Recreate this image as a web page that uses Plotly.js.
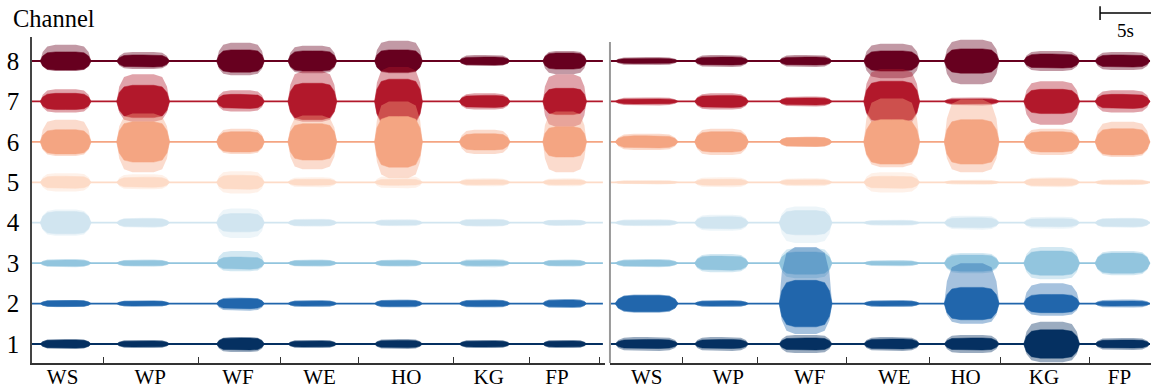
<!DOCTYPE html>
<html>
<head>
<meta charset="utf-8">
<script src="https://cdn.plot.ly/plotly-3.0.1.min.js"></script>
</head>
<body style="margin:0;padding:0;background:#fff">
<div id="chart"></div>
<script>
// ---------- data (time in seconds, amplitude in 1/40 of channel spacing) ----------
const GESTURES = ['WS', 'WP', 'WF', 'WE', 'HO', 'KG', 'FP'];
const CHANNELS = [1, 2, 3, 4, 5, 6, 7, 8];

// left recording
const LEFT_START = [0.8, 8.3, 18.1, 25.1, 33.6, 41.9, 50.1];
const LEFT_END   = [5.8, 13.5, 22.8, 29.9, 38.3, 46.9, 54.4];
const LEFT_TICKS = [7.0, 16.3, 24.4, 32.0, 41.3, 48.8, 55.7];
const LEFT_LABEL_POS = [3.0, 11.6, 20.2, 28.2, 36.7, 44.8, 51.5];
const LEFT_LENGTH = 56.0;
// rows: channel 1..8, columns: WS WP WF WE HO KG FP
const LEFT_BODY = [
  [4, 3, 6, 3, 3.5, 3, 3],
  [3, 2.5, 5, 2.5, 3, 3, 3.5],
  [3, 2.5, 6, 2.5, 2.5, 2.5, 2.5],
  [11, 4, 9, 3, 2.5, 3, 2.5],
  [6, 5, 7, 3, 3, 2.5, 2.5],
  [12, 20, 10, 18, 25, 8, 15],
  [8, 16, 7, 18, 22, 6, 13],
  [9, 6, 11, 10, 11, 4, 8]
];
const LEFT_PEAK_UP = [
  [5, 4, 7, 4, 5, 4, 4],
  [3.5, 3, 6, 3.5, 4, 4, 4.5],
  [4, 3.5, 12, 3.5, 3.5, 4, 3.5],
  [13, 5, 14, 4, 3.5, 4, 3],
  [9, 8, 11, 5, 6, 4, 4],
  [22, 28, 13, 26, 40, 12, 30],
  [12, 27, 11, 30, 34, 8, 27],
  [16, 9, 18, 15, 20, 6, 10]
];
const LEFT_PEAK_DOWN = [
  [5, 4, 8, 4, 5, 4, 4],
  [3.5, 3, 7, 3.5, 4, 4, 4.5],
  [4, 3.5, 8, 3.5, 3.5, 4, 3.5],
  [13, 5, 15, 4, 3.5, 4, 3],
  [9, 7, 11, 5, 6, 4, 4],
  [14, 30, 12, 27, 36, 12, 30],
  [11, 20, 10, 20, 25, 8, 25],
  [10, 8, 14, 12, 12, 5, 13]
];

// right recording
const RIGHT_START = [0.5, 8.3, 16.6, 24.9, 32.8, 40.6, 47.6];
const RIGHT_END   = [6.7, 13.6, 21.8, 30.4, 38.2, 46.1, 53.0];
const RIGHT_TICKS = [7.1, 14.5, 23.2, 31.4, 38.3, 47.1];
const RIGHT_LABEL_POS = [3.6, 11.6, 19.6, 27.9, 34.9, 42.6, 50.0];
const RIGHT_LENGTH = 53.0;
const RIGHT_BODY = [
  [4.5, 4.5, 6, 5, 6, 14, 4],
  [8, 2.5, 23, 2.5, 16, 9, 2.5],
  [3, 7, 11, 2, 8, 12, 10],
  [2.5, 6, 12, 2, 5, 4, 4],
  [1.5, 3, 2.5, 6, 1.5, 3.5, 2],
  [6, 10, 4.5, 22, 22, 10, 13],
  [2.5, 6, 3.5, 20, 2.5, 12, 7],
  [2.5, 4, 4, 10, 12, 7, 6]
];
const RIGHT_PEAK_UP = [
  [7, 7, 9, 7, 9, 22, 6],
  [9, 3.5, 56, 3.5, 40, 20, 4],
  [4, 9, 15, 3, 10, 16, 12],
  [3.5, 8, 16, 3, 7, 6, 5],
  [2, 5, 4, 10, 2.5, 5, 3],
  [8, 13, 5, 43, 42, 13, 20],
  [4, 8, 5, 32, 4, 20, 11],
  [4, 6, 6, 17, 21, 10, 9]
];
const RIGHT_PEAK_DOWN = [
  [7, 7, 9, 7, 9, 18, 6],
  [9, 3.5, 30, 3.5, 20, 12, 4],
  [4, 9, 15, 3, 10, 16, 12],
  [3.5, 8, 20, 3, 7, 6, 5],
  [2, 5, 4, 10, 2.5, 5, 3],
  [8, 13, 5, 25, 30, 13, 15],
  [4, 8, 5, 23, 4, 23, 11],
  [4, 6, 6, 17, 23, 10, 9]
];
const SCALE_BAR_SECONDS = 5;
const SCALE_BAR_START = 48.1;

// ---------- style ----------
const AMP_UNIT = 1 / 40;
const COLORS = ['#053061', '#2166ac', '#92c5de', '#d1e5f0', '#fddbc7', '#f4a582', '#b2182b', '#67001f'];
const FRAC  = [0, 0.05, 0.14, 0.3, 0.5, 0.7, 0.86, 0.95, 1];
const SHAPE = [0, 0.55, 0.9, 1, 1, 1, 0.9, 0.55, 0];
const SERIF = '"Liberation Serif", "Times New Roman", serif';

function envelope(ch, starts, ends, upAmp, downAmp) {
  const xs = [], ys = [];
  for (let g = 0; g < starts.length; g++) {
    const t0 = starts[g], d = ends[g] - starts[g];
    const up = upAmp[g] * AMP_UNIT, dn = downAmp[g] * AMP_UNIT;
    for (let k = 0; k < FRAC.length; k++) { xs.push(t0 + FRAC[k] * d); ys.push(ch + up * SHAPE[k]); }
    for (let k = FRAC.length - 1; k >= 0; k--) { xs.push(t0 + FRAC[k] * d); ys.push(ch - dn * SHAPE[k]); }
    xs.push(null); ys.push(null);
  }
  return { xs, ys };
}

const traces = [];
function addPanel(xa, ya, starts, ends, len, body, pu, pd) {
  for (let i = CHANNELS.length - 1; i >= 0; i--) {
    const ch = CHANNELS[i], col = COLORS[i];
    traces.push({ type: 'scatter', mode: 'lines', x: [0, len], y: [ch, ch], xaxis: xa, yaxis: ya,
      line: { color: col, width: 1.8 }, hoverinfo: 'skip', showlegend: false });
    const p = envelope(ch, starts, ends, pu[i], pd[i]);
    traces.push({ type: 'scatter', mode: 'lines', x: p.xs, y: p.ys, xaxis: xa, yaxis: ya, fill: 'toself',
      fillcolor: col, opacity: 0.4, line: { width: 0, color: col }, hoverinfo: 'skip', showlegend: false });
    const b = envelope(ch, starts, ends, body[i], body[i]);
    traces.push({ type: 'scatter', mode: 'lines', x: b.xs, y: b.ys, xaxis: xa, yaxis: ya, fill: 'toself',
      fillcolor: col, line: { width: 0.5, color: col }, hoverinfo: 'skip', showlegend: false });
  }
}
addPanel('x', 'y', LEFT_START, LEFT_END, LEFT_LENGTH, LEFT_BODY, LEFT_PEAK_UP, LEFT_PEAK_DOWN);
addPanel('x2', 'y2', RIGHT_START, RIGHT_END, RIGHT_LENGTH, RIGHT_BODY, RIGHT_PEAK_UP, RIGHT_PEAK_DOWN);

const yRange = [0.53, 8.594];
function xAxis(domain, range, anchor, labels, ticks) {
  return {
    domain: domain, range: range, anchor: anchor,
    showgrid: false, zeroline: false, showline: true, linecolor: '#333', linewidth: 1.5,
    ticks: '', tickmode: 'array', tickvals: labels, ticktext: GESTURES,
    tickfont: { family: SERIF, size: 21, color: '#000' }, ticklabelstandoff: -6,
    minor: { tickmode: 'array', tickvals: ticks, ticks: 'inside', ticklen: 6, tickcolor: '#333', tickwidth: 1, showgrid: false }
  };
}
const layout = {
  width: 1152, height: 390,
  margin: { l: 32, r: 1, t: 37, b: 27, pad: 0 },
  paper_bgcolor: '#fff', plot_bgcolor: '#fff',
  showlegend: false,
  font: { family: SERIF, color: '#000' },
  xaxis: xAxis([0, 0.512], [0, 56.2], 'y', LEFT_LABEL_POS, LEFT_TICKS),
  xaxis2: xAxis([0.5165, 1], [0, 53.1], 'y2', RIGHT_LABEL_POS, RIGHT_TICKS),
  yaxis: {
    range: yRange, anchor: 'x', showgrid: false, zeroline: false, showline: true, linecolor: '#444', linewidth: 1.5,
    ticks: '', tickmode: 'array', tickvals: CHANNELS, ticktext: CHANNELS.map(String),
    tickfont: { family: SERIF, size: 25, color: '#000' }, ticklabelstandoff: 6
  },
  yaxis2: {
    range: yRange, anchor: 'x2', showgrid: false, zeroline: false, showline: false,
    showticklabels: false, ticks: ''
  },
  shapes: [
    { type: 'line', xref: 'x2 domain', yref: 'y2 domain', x0: 0, x1: 0, y0: 0, y1: 0.985,
      line: { color: '#999', width: 2 } },
    { type: 'line', xref: 'x2', yref: 'paper', x0: SCALE_BAR_START, x1: SCALE_BAR_START + SCALE_BAR_SECONDS,
      y0: 1.0736, y1: 1.0736, line: { color: '#000', width: 1.5 } },
    { type: 'line', xref: 'x2', yref: 'paper', x0: SCALE_BAR_START, x1: SCALE_BAR_START,
      y0: 1.052, y1: 1.094, line: { color: '#000', width: 1.5 } }
  ],
  annotations: [
    { text: 'Channel', xref: 'paper', yref: 'paper', x: 0, y: 1, xanchor: 'left', yanchor: 'middle',
      xshift: -21, yshift: 19, showarrow: false, font: { family: SERIF, size: 24.5, color: '#000' } },
    { text: SCALE_BAR_SECONDS + 's', xref: 'x2', yref: 'paper', x: SCALE_BAR_START + SCALE_BAR_SECONDS / 2, y: 1.021,
      xanchor: 'center', yanchor: 'middle', showarrow: false, font: { family: SERIF, size: 19, color: '#000' } }
  ]
};
Plotly.newPlot('chart', traces, layout, { displayModeBar: false });
</script>
</body>
</html>
